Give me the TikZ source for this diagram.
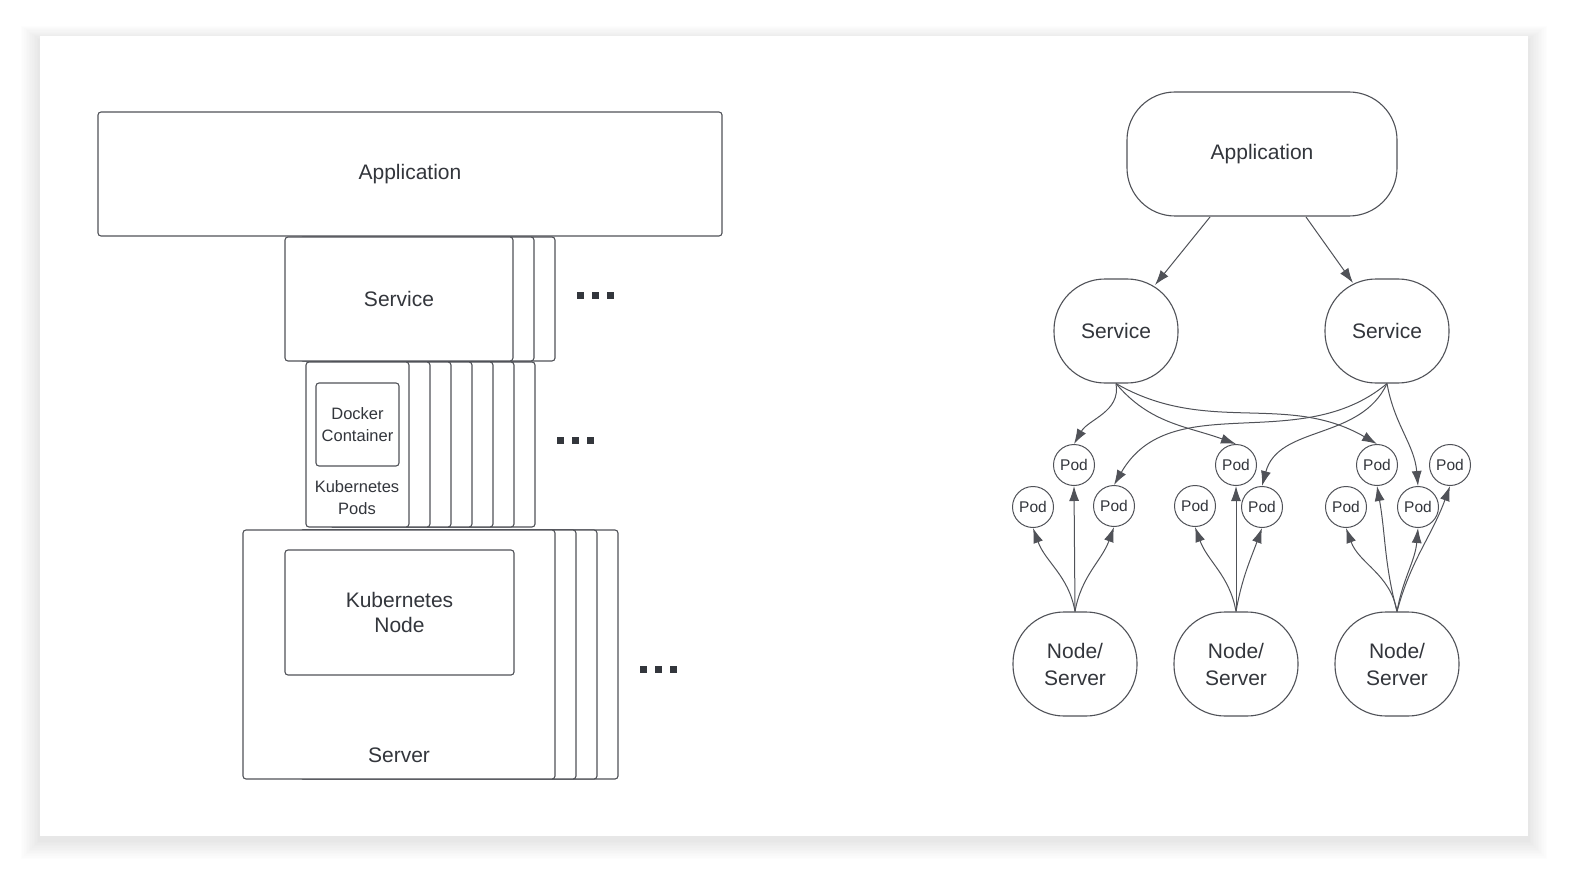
\documentclass[tikz,border=0pt]{standalone}
\usepackage{fontspec}
\setmainfont{Liberation Sans}
\usetikzlibrary{arrows.meta}
\definecolor{ln}{HTML}{505258}
\definecolor{tx}{HTML}{33363C}
\begin{document}
\begin{tikzpicture}[x=1pt,y=-1pt,
  box/.style={draw=ln,line width=1.1pt,fill=white,rounded corners=3pt},
  lbl/.style={text=tx,font=\fontsize{21}{25}\selectfont,align=center},
  slbl/.style={text=tx,font=\fontsize{16.5}{22}\selectfont,align=center},
  rb/.style={draw=ln,line width=1.1pt,fill=white,rounded corners=48pt,text=tx,font=\fontsize{21}{27}\selectfont,align=center,inner sep=0pt},
  pod/.style={draw=ln,line width=1pt,fill=white,circle,minimum size=41pt,inner sep=0pt,text=tx,font=\fontsize{15.5}{18}\selectfont},
  arr/.style={draw=ln,line width=1pt,-{Latex[length=15pt,width=10pt]}},
  dot/.style={fill=tx}]
\useasboundingbox (0,0) rectangle (1592,893);
\fill[white] (0,0) rectangle (1592,893);
\foreach \i in {1,...,12}{
  \fill[black,opacity=0.008] ({40-1.6*\i},{36-1.2*\i+4}) rectangle ({1528+1.6*\i},{836+1.6*\i+4});}
\fill[white] (40,36) rectangle (1528,836);
% ---- left
\node[box,lbl,minimum width=624pt,minimum height=124pt] (app) at (410,174) {Application};
\foreach \r in {555,534}{\draw[box] (300,237) rectangle (\r,361);}
\node[box,lbl,minimum width=228pt,minimum height=124pt] (svc) at (399,299) {Service};
\foreach \x in {580,595,610}{\fill[dot] (\x-3.5,291.5) rectangle (\x+3.5,298.5);}
\foreach \r in {535,514,493,472,451,430}{\draw[box] (330,362) rectangle (\r,527);}
\node[box,minimum width=103pt,minimum height=165pt] (pods) at (357.5,444.5) {};
\node[box,slbl,minimum width=83pt,minimum height=83pt,inner sep=0pt] (dock) at (357.5,424.5) {Docker\\Container};
\node[slbl] (kp) at (357,498) {Kubernetes\\Pods};
\foreach \x in {560,575,590}{\fill[dot] (\x-3.5,437) rectangle (\x+3.5,444);}
\foreach \r in {618,597,576}{\draw[box] (300,530) rectangle (\r,779);}
\node[box,minimum width=312pt,minimum height=249pt] (srv) at (399,654.5) {};
\node[box,lbl,minimum width=229pt,minimum height=125pt] (kn) at (399.5,612.5) {Kubernetes\\Node};
\node[lbl] (srvl) at (399,755) {Server};
\foreach \x in {643,658,673}{\fill[dot] (\x-3.5,666) rectangle (\x+3.5,673);}
% ---- right
\node[rb,minimum width=270pt,minimum height=124pt] (rapp) at (1262,154) {Application};
\node[rb,minimum width=124pt,minimum height=104pt,rounded corners=51pt] (s1) at (1116,331) {Service};
\node[rb,minimum width=124pt,minimum height=104pt,rounded corners=51pt] (s2) at (1387,331) {Service};
\foreach \n/\x in {n1/1075,n2/1236,n3/1397}
  \node[rb,minimum width=124pt,minimum height=104pt,rounded corners=51pt] (\n) at (\x,664) {Node/\\Server};
\node[pod] (p1) at (1074,465) {Pod};
\node[pod] (p2) at (1033,507) {Pod};
\node[pod] (p3) at (1114,506) {Pod};
\node[pod] (p4) at (1236,465) {Pod};
\node[pod] (p5) at (1195,506) {Pod};
\node[pod] (p6) at (1262,507) {Pod};
\node[pod] (p7) at (1377,465) {Pod};
\node[pod] (p8) at (1346,507) {Pod};
\node[pod] (p9) at (1418,507) {Pod};
\node[pod] (p10) at (1450,465) {Pod};
\coordinate (a1) at (1210,217);
\coordinate (a2) at (1306,217);
\coordinate (t1) at (1155,285);
\coordinate (t2) at (1353,283);
\draw[arr] (a1) -- (t1);
\draw[arr] (a2) -- (t2);
% service 1
\draw[arr] (s1.south) to[out=-80,in=60] (p1.north);
\draw[arr] (s1.south) to[out=-50,in=160] (p4.north);
\draw[arr] (s1.south) to[out=-30,in=150] (p7.north);
% service 2
\draw[arr] (s2.south) to[out=-140,in=60] (p3.north);
\draw[arr] (s2.south) to[out=-115,in=75] (p6.north);
\draw[arr] (s2.south) to[out=-80,in=95] (p9.north);
% nodes
\draw[arr] (n1.north) to[out=100,in=-70] (p2.south);
\draw[arr] (n1.north) -- (p1.south);
\draw[arr] (n1.north) to[out=80,in=-110] (p3.south);
\draw[arr] (n2.north) to[out=100,in=-70] (p5.south);
\draw[arr] (n2.north) -- (p4.south);
\draw[arr] (n2.north) to[out=80,in=-110] (p6.south);
\draw[arr] (n3.north) to[out=100,in=-70] (p8.south);
\draw[arr] (n3.north) to[out=105,in=-80] (p7.south);
\draw[arr] (n3.north) to[out=80,in=-95] (p9.south);
\draw[arr] (n3.north) to[out=75,in=-110] (p10.south);
\end{tikzpicture}
\end{document}
